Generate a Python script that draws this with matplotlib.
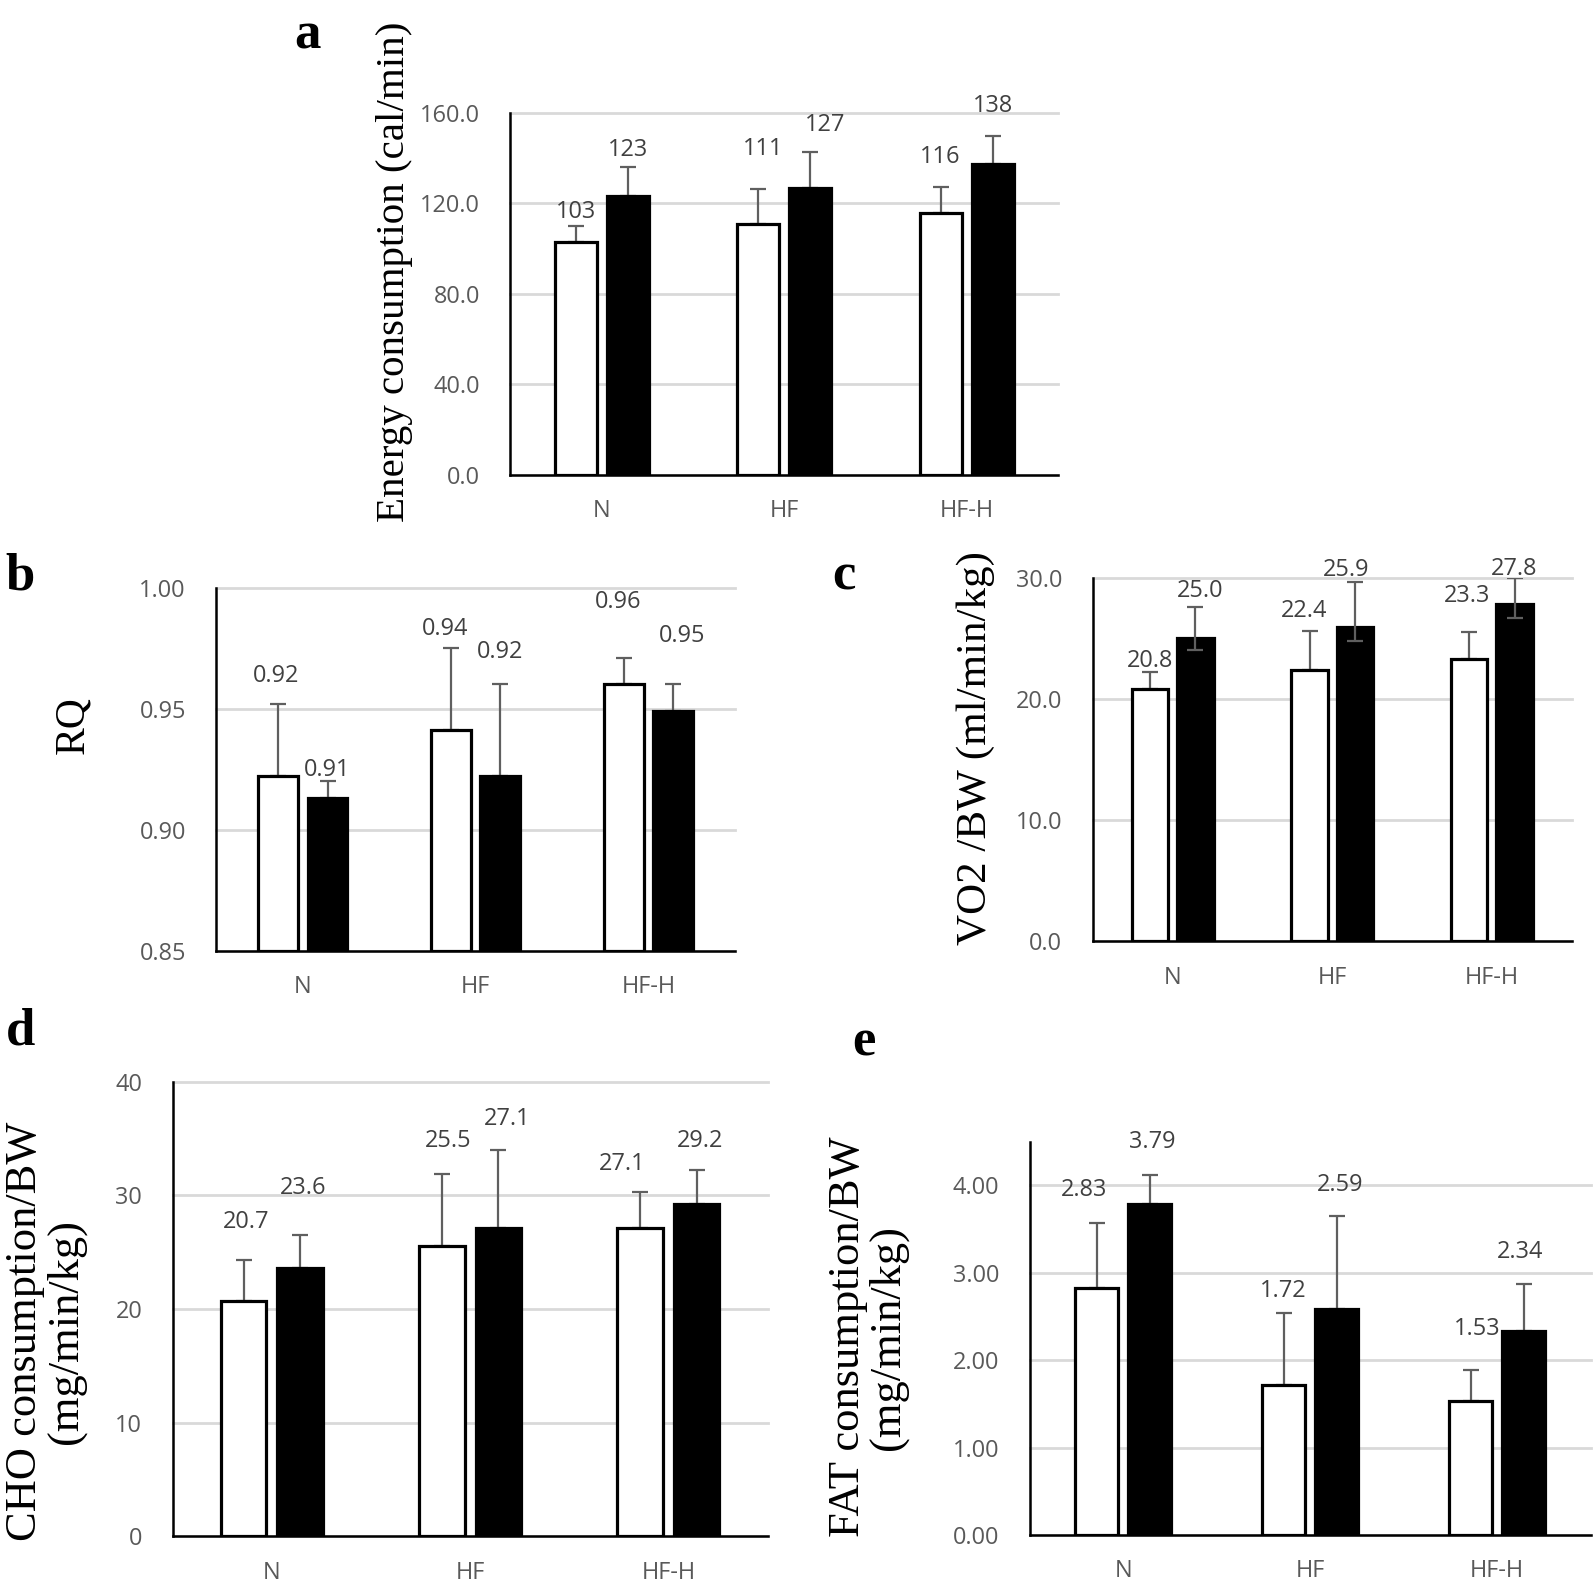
import matplotlib.pyplot as plt
import numpy as np

# categories on every panel
groups = ["N", "HF", "HF-H"]

# a - energy consumption (cal/min)
energy_white = [103.0, 110.7, 115.7]
energy_black = [123.4, 126.7, 137.6]
energy_err_white = [7.1, 15.6, 11.5]
energy_err_black = [12.7, 16.1, 12.1]
energy_ticks = [0, 40, 80, 120, 160]

# b - RQ
rq_white = [0.922, 0.941, 0.960]
rq_black = [0.913, 0.922, 0.949]
rq_err_white = [0.030, 0.034, 0.011]
rq_err_black = [0.007, 0.038, 0.011]
rq_ticks = [0.85, 0.90, 0.95, 1.00]

# c - VO2 / BW (ml/min/kg)
vo2_white = [20.8, 22.4, 23.3]
vo2_black = [25.0, 25.9, 27.8]
vo2_err_white = [1.4, 3.2, 2.2]
vo2_err_black = [2.6, 3.7, 2.2]
vo2_err_black_low = [1.0, 1.1, 1.1]
vo2_ticks = [0, 10, 20, 30]

# d - CHO consumption/BW (mg/min/kg)
cho_white = [20.7, 25.5, 27.1]
cho_black = [23.6, 27.1, 29.2]
cho_err_white = [3.6, 6.4, 3.2]
cho_err_black = [2.9, 6.9, 3.0]
cho_ticks = [0, 10, 20, 30, 40]

# e - FAT consumption/BW (mg/min/kg)
fat_white = [2.83, 1.72, 1.53]
fat_black = [3.79, 2.59, 2.34]
fat_err_white = [0.74, 0.82, 0.36]
fat_err_black = [0.33, 1.06, 0.53]
fat_ticks = [0, 1, 2, 3, 4]

# estilo
SANS = ["Open Sans", "DejaVu Sans"]
SERIF = ["Liberation Serif", "DejaVu Serif"]
TICK_COLOR = "#595959"
LABEL_COLOR = "#404040"
GRID_COLOR = "#d9d9d9"
ERR_COLOR = "#5f5f5f"
FS = 16.9
BAR_W = 0.23
OFF = (BAR_W + 0.055) / 2


def painel(fig, rect, ylim, ticks, fmt_tick, fmt_lab,
           white, black, err_w, err_b, err_b_low,
           lab_w, lab_b):
    """
    One grouped bar panel, Excel look.
    lab_w / lab_b: (dx, y) position of each data label.
    """
    ax = fig.add_axes(rect)
    x = np.arange(len(groups))
    ymin, ymax = ylim

    white = np.array(white)
    black = np.array(black)

    ax.bar(x - OFF, white - ymin, bottom=ymin, width=BAR_W,
           color="white", edgecolor="black", linewidth=2.3, zorder=2)
    ax.bar(x + OFF, black - ymin, bottom=ymin, width=BAR_W,
           color="black", edgecolor="black", linewidth=2.3, zorder=2)

    ax.errorbar(x - OFF, white, yerr=[np.zeros(3), err_w], fmt="none",
                ecolor=ERR_COLOR, elinewidth=1.6, capsize=5.5,
                capthick=1.6, zorder=1.5)
    low_b = np.zeros(3) if err_b_low is None else np.array(err_b_low)
    ax.errorbar(x + OFF, black, yerr=[low_b, err_b], fmt="none",
                ecolor=ERR_COLOR, elinewidth=1.6, capsize=5.5,
                capthick=1.6, zorder=3 if err_b_low is not None else 1.5)

    # rótulos de dados
    for i in range(len(groups)):
        ax.text(x[i] - OFF + lab_w[i][0], lab_w[i][1], fmt_lab.format(white[i]),
                ha="center", va="center", fontsize=FS, color=LABEL_COLOR,
                family=SANS, clip_on=False)
        ax.text(x[i] + OFF + lab_b[i][0], lab_b[i][1], fmt_lab.format(black[i]),
                ha="center", va="center", fontsize=FS, color=LABEL_COLOR,
                family=SANS, clip_on=False)

    ax.set_xlim(-0.5, len(groups) - 0.5)
    ax.set_ylim(ymin, ymax)
    ax.set_xticks(x)
    ax.set_xticklabels(groups, family=SANS, fontsize=FS, color=TICK_COLOR)
    ax.set_yticks(ticks)
    ax.set_yticklabels([fmt_tick.format(t) for t in ticks],
                       family=SANS, fontsize=FS, color=TICK_COLOR)
    ax.tick_params(axis="y", length=0, pad=22)
    ax.tick_params(axis="x", length=0, pad=17.5)

    ax.yaxis.grid(True, color=GRID_COLOR, linewidth=2)
    ax.set_axisbelow(True)
    for line in ax.get_ygridlines():
        line.set_clip_on(False)

    for s in ["top", "right"]:
        ax.spines[s].set_visible(False)
    for s in ["left", "bottom"]:
        ax.spines[s].set_color("black")
        ax.spines[s].set_linewidth(1.8)
        ax.spines[s].set_zorder(4)

    return ax


fig = plt.figure(figsize=(15.94, 15.87), dpi=100)

# a
painel(fig, [0.3202, 0.7008, 0.3434, 0.2281], (0, 160), energy_ticks,
       "{:.1f}", "{:.0f}",
       energy_white, energy_black, energy_err_white, energy_err_black, None,
       [(0, 116.0), (0.028, 144.0), (0, 140.7)],
       [(0, 143.6), (0.083, 154.8), (0, 163.1)])

# b
painel(fig, [0.1358, 0.4010, 0.3253, 0.2287], (0.85, 1.00), rq_ticks,
       "{:.2f}", "{:.2f}",
       rq_white, rq_black, rq_err_white, rq_err_black, None,
       [(-0.014, 0.9636), (-0.033, 0.9830), (-0.036, 0.9940)],
       [(0, 0.9248), (0, 0.9734), (0.049, 0.9802)])

# c
painel(fig, [0.6856, 0.4068, 0.3004, 0.2293], (0, 30), vo2_ticks,
       "{:.1f}", "{:.1f}",
       vo2_white, vo2_black, vo2_err_white, vo2_err_black, vo2_err_black_low,
       [(0, 23.15), (-0.031, 27.26), (-0.016, 28.5)],
       [(0.031, 28.9), (-0.056, 30.66), (0, 30.74)])

# d
painel(fig, [0.1084, 0.0320, 0.3731, 0.2864], (0, 40), cho_ticks,
       "{:.0f}", "{:.1f}",
       cho_white, cho_black, cho_err_white, cho_err_black, None,
       [(0.012, 27.68), (0.03, 34.78), (-0.09, 32.77)],
       [(0.017, 30.63), (0.044, 36.72), (0.015, 34.78)])

# e
painel(fig, [0.6460, 0.0327, 0.3520, 0.2479], (0, 4.5), fat_ticks,
       "{:.2f}", "{:.2f}",
       fat_white, fat_black, fat_err_white, fat_err_black, None,
       [(-0.068, 3.943), (0, 2.789), (0.035, 2.362)],
       [(0.014, 4.497), (0.016, 4.009), (-0.019, 3.242)])

# títulos dos eixos
fig.text(0.2474, 0.829, "Energy consumption (cal/min)", rotation=90,
         ha="center", va="center", fontsize=29.5, family=SERIF)
fig.text(0.0459, 0.5432, "RQ", rotation=90,
         ha="center", va="center", fontsize=30, family=SERIF)
fig.text(0.6122, 0.5285, "VO2 /BW (ml/min/kg)", rotation=90,
         ha="center", va="center", fontsize=31, family=SERIF)
fig.text(0.0285, 0.1610, "CHO consumption/BW\n(mg/min/kg)", rotation=90,
         ha="center", va="center", fontsize=32, family=SERIF,
         multialignment="center", linespacing=1.0)
fig.text(0.5446, 0.1575, "FAT consumption/BW\n(mg/min/kg)", rotation=90,
         ha="center", va="center", fontsize=32, family=SERIF,
         multialignment="center", linespacing=1.0)

# letras dos painéis
for letra, px, py in [("a", 0.1926, 0.9776), ("b", 0.0128, 0.6368),
                      ("c", 0.5293, 0.6368), ("d", 0.0128, 0.3498),
                      ("e", 0.5421, 0.3434)]:
    fig.text(px, py, letra, ha="center", va="center", fontsize=38,
             fontweight="bold", family=SERIF)

fig.savefig("out.png", dpi=100)
plt.close(fig)
